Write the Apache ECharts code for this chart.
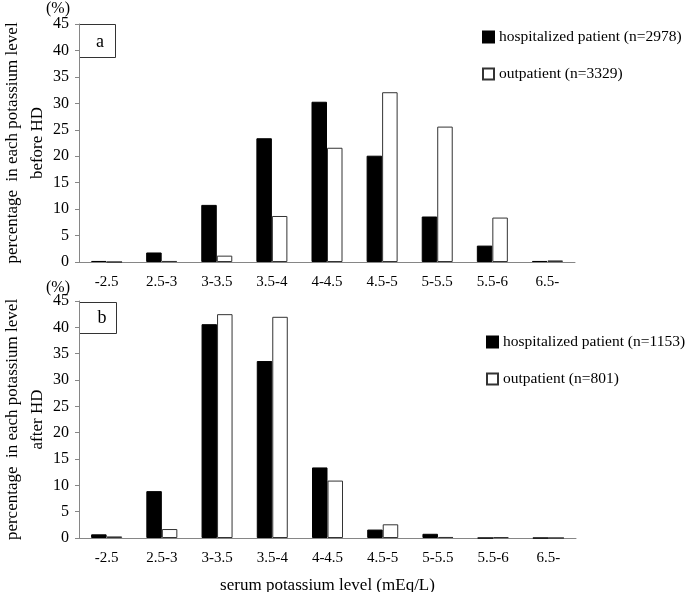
<!DOCTYPE html>
<html><head><meta charset="utf-8">
<script src="https://cdn.jsdelivr.net/npm/echarts@6/dist/echarts.min.js"></script>
<style>html,body{margin:0;padding:0;background:#fff}#c{width:685px;height:592px}</style>
</head><body><div id="c"></div>
<script>
const categories = ['-2.5','2.5-3','3-3.5','3.5-4','4-4.5','4.5-5','5-5.5','5.5-6','6.5-'];
const yTicks = [0,5,10,15,20,25,30,35,40,45];
const beforeHosp = [0.2,1.8,10.8,23.4,30.3,20.1,8.6,3.1,0.2];
const beforeOut  = [0,0.2,1.2,8.7,21.6,32.1,25.6,8.4,0.3];
const afterHosp  = [0.7,8.9,40.6,33.6,13.4,1.6,0.8,0,0];
const afterOut   = [0.3,1.7,42.5,42.0,10.9,2.6,0.2,0.15,0];
const legendTop = ['hospitalized patient (n=2978)','outpatient (n=3329)'];
const legendBot = ['hospitalized patient (n=1153)','outpatient (n=801)'];

const FONT = 'Liberation Serif';
const AX = '#868686';
const chart = echarts.init(document.getElementById('c'));
function xAx(idx, withName){
  return {type:'category', gridIndex:idx, data:categories,
    axisLine:{lineStyle:{color:AX}}, axisTick:{length:5,lineStyle:{color:AX}},
    axisLabel:{color:'#000',fontFamily:FONT,fontSize:15,margin:13},
    name: withName ? 'serum potassium level (mEq/L)' : '', nameLocation:'middle', nameGap:39,
    nameTextStyle:{color:'#000',fontFamily:FONT,fontSize:17}};
}
function yAx(idx, name){
  return {type:'value', gridIndex:idx, min:yTicks[0], max:yTicks[yTicks.length-1], interval:5,
    splitLine:{show:false}, axisLine:{show:true,lineStyle:{color:AX}},
    axisTick:{show:true,length:4,lineStyle:{color:AX}},
    axisLabel:{color:'#000',fontFamily:FONT,fontSize:16,margin:10},
    name:name, nameLocation:'middle', nameRotate:90, nameGap:29, nameMoveOverlap:false,
    nameTextStyle:{color:'#000',fontFamily:FONT,fontSize:17,lineHeight:25}};
}
const blackStyle = {color:'#000',borderColor:'#000',borderWidth:1};
const whiteStyle = {color:'#fff',borderColor:'#333',borderWidth:1};
function bar(name, data, idx, style){
  return {type:'bar', name:name, data:data, xAxisIndex:idx, yAxisIndex:idx,
    barWidth:15.5, barGap:'0%', itemStyle:style, silent:true, animation:false};
}
chart.setOption({
  animation:false,
  textStyle:{fontFamily:FONT},
  grid:[{left:79,top:24,width:496,height:238,outerBoundsMode:'none',containLabel:false},
        {left:79,top:301,width:497,height:237,outerBoundsMode:'none',containLabel:false}],
  xAxis:[xAx(0,false), xAx(1,true)],
  yAxis:[yAx(0,'percentage  in each potassium level\nbefore HD'), yAx(1,'percentage  in each potassium level\nafter HD')],
  legend:[
    {data:legendTop, orient:'vertical', left:482, top:29, padding:0, itemWidth:11, itemHeight:11, itemGap:21,
     textStyle:{color:'#000',fontFamily:FONT,fontSize:15.5}, icon:'rect'},
    {data:legendBot, orient:'vertical', left:486, top:334, padding:0, itemWidth:11, itemHeight:11, itemGap:21,
     textStyle:{color:'#000',fontFamily:FONT,fontSize:15.5}, icon:'rect'}
  ],
  series:[
    bar(legendTop[0], beforeHosp, 0, blackStyle),
    bar(legendTop[1], beforeOut, 0, whiteStyle),
    bar(legendBot[0], afterHosp, 1, blackStyle),
    bar(legendBot[1], afterOut, 1, whiteStyle)
  ],
  graphic:[
    {type:'rect', shape:{x:79.5,y:24.5,width:36,height:33}, style:{fill:'#fff',stroke:'#333',lineWidth:1}},
    {type:'text', x:100, y:42, style:{text:'a',font:'18px "Liberation Serif"',fill:'#000',textAlign:'center',textVerticalAlign:'middle'}},
    {type:'rect', shape:{x:79.5,y:302.5,width:37,height:31}, style:{fill:'#fff',stroke:'#333',lineWidth:1}},
    {type:'text', x:102, y:318, style:{text:'b',font:'18px "Liberation Serif"',fill:'#000',textAlign:'center',textVerticalAlign:'middle'}},
    {type:'text', x:58, y:9, style:{text:'(%)',font:'16px "Liberation Serif"',fill:'#000',textAlign:'center',textVerticalAlign:'middle'}},
    {type:'text', x:58, y:288, style:{text:'(%)',font:'16px "Liberation Serif"',fill:'#000',textAlign:'center',textVerticalAlign:'middle'}}
  ]
});
</script></body></html>
